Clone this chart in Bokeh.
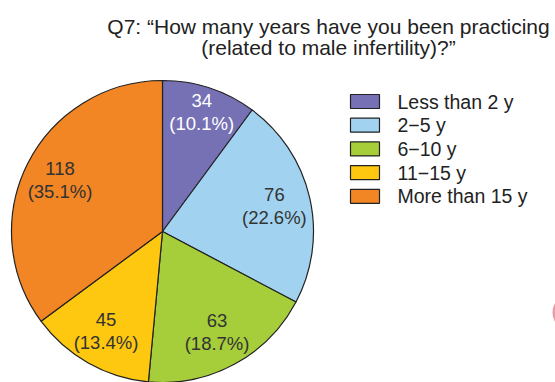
import math
from bokeh.plotting import figure
from bokeh.models import Range1d, ColumnDataSource
from bokeh.core.properties import value
from bokeh.embed import file_html
from bokeh.resources import INLINE

categories = ["Less than 2 y", "2\u22125 y", "6\u221210 y", "11\u221215 y", "More than 15 y"]
counts = [34, 76, 63, 45, 118]
percents = [10.1, 22.6, 18.7, 13.4, 35.1]
colors = ["#7670b4", "#a1d3f0", "#a6cd3a", "#fdc80f", "#f28524"]
label_colors = ["#ffffff", "#333333", "#333333", "#333333", "#333333"]
title_lines = ["Q7: \u201cHow many years have you been practicing", "(related to male infertility)?\u201d"]

W, H = 555, 382
FONT = value("Liberation Sans")

p = figure(width=W, height=H, output_backend="svg", toolbar_location=None,
           x_range=Range1d(0, W), y_range=Range1d(0, H), min_border=0)
p.axis.visible = False
p.grid.visible = False
p.outline_line_color = None
p.background_fill_color = "white"
p.border_fill_color = "white"

cx, cy, R = 162, H - 231, 151
total = sum(counts)
starts, ends, lx, ly = [], [], [], []
cum = 0
for c, pct in zip(counts, percents):
    a0 = math.pi / 2 - 2 * math.pi * cum / total
    cum += c
    a1 = math.pi / 2 - 2 * math.pi * cum / total
    starts.append(a0)
    ends.append(a1)
    mid = (a0 + a1) / 2
    rf = 0.83 if c / total < 0.12 else 0.76
    lx.append(cx + rf * R * math.cos(mid))
    ly.append(cy + rf * R * math.sin(mid))

src = ColumnDataSource(dict(start=starts, end=ends, color=colors, cat=categories))
p.wedge(x=cx, y=cy, radius=R, start_angle="start", end_angle="end", direction="clock",
        fill_color="color", line_color="#222222", line_width=1.2, source=src)

lsrc = ColumnDataSource(dict(x=lx, y=ly,
                             t=[f"{c}\n({pc}%)" for c, pc in zip(counts, percents)],
                             col=label_colors))
p.text(x="x", y="y", text="t", text_color="col", source=lsrc, text_font=FONT,
       text_font_size="18.5px", text_align="center", text_baseline="middle",
       text_line_height=1.1)

# legend
lx0, ly0, step = 350, H - 101, 23.7
for i, (cat, col) in enumerate(zip(categories, colors)):
    y = ly0 - i * step
    p.rect(x=lx0 + 14.5, y=y, width=29, height=14, fill_color=col, line_color="#222222", line_width=1.2)
    p.text(x=[lx0 + 47], y=[y], text=[cat], text_font=FONT, text_font_size="19.5px",
           text_color="#222222", text_baseline="middle", text_align="left")

# title
for i, t in enumerate(title_lines):
    p.text(x=[328], y=[H - 26 - i * 20.5], text=[t], text_font=FONT, text_font_size="21px",
           text_color="#222222", text_baseline="alphabetic", text_align="center")

# partial pink shape at right edge (from the source image)
p.ellipse(x=[559], y=[H - 312], width=14, height=24, fill_color="#e3959a", line_color=None, fill_alpha=0.9)

open("out.html", "w").write(file_html(p, INLINE))
